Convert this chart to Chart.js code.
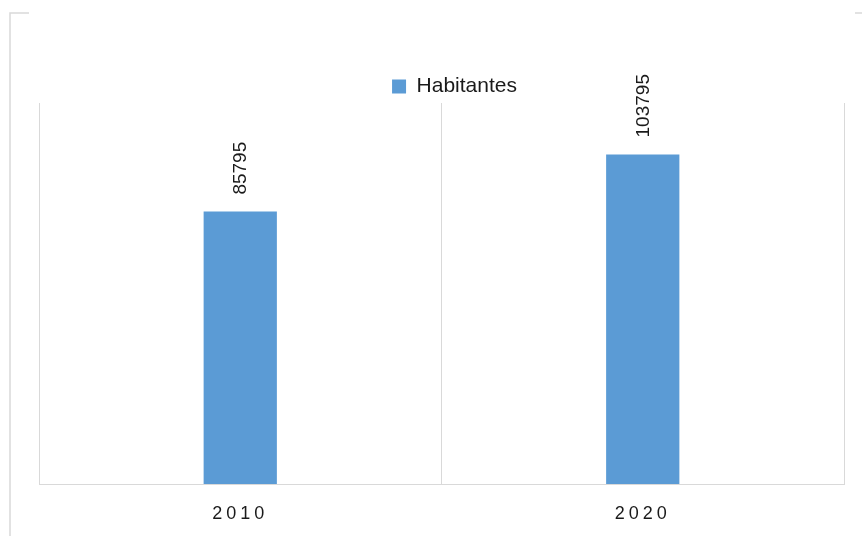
<!DOCTYPE html>
<html lang="es">
<head>
  <meta charset="UTF-8" />
  <title>Habitantes</title>
  <script src="https://cdn.jsdelivr.net/npm/chart.js"></script>
  <style>
    body {
      margin: 0;
      background: #fff;
    }
    .grafico {
      width: 862px;
      height: 536px;
      position: relative;
    }
  </style>
</head>
<body>
  <div class="grafico">
    <canvas id="grafico_habitantes"></canvas>
  </div>

  <script>
    // datos del grafico
    const anios = ['2010', '2020'];
    const habitantes = [85795, 103795];
    const nombreSerie = 'Habitantes';
    const escalaMin = 0;
    const escalaMax = 120000;

    const AZUL = '#5b9bd5';
    const GRIS = '#d9d9d9';
    const TEXTO = '#1a1a1a';

    // marco exterior (solo quedan trozos visibles)
    const marco = {
      id: 'marco',
      beforeDraw(chart) {
        const ctx = chart.ctx;
        ctx.save();
        ctx.strokeStyle = GRIS;
        ctx.lineWidth = 1.5;
        ctx.beginPath();
        ctx.moveTo(10, 536);
        ctx.lineTo(10, 13);
        ctx.lineTo(29, 13);
        ctx.moveTo(855, 13);
        ctx.lineTo(862, 13);
        ctx.stroke();
        ctx.restore();
      }
    };

    // etiquetas verticales encima de cada barra
    const etiquetas = {
      id: 'etiquetas',
      afterDatasetsDraw(chart) {
        const ctx = chart.ctx;
        const meta = chart.getDatasetMeta(0);
        ctx.save();
        ctx.fillStyle = TEXTO;
        ctx.font = '19px "Liberation Sans", Arial, sans-serif';
        ctx.textAlign = 'left';
        ctx.textBaseline = 'middle';
        meta.data.forEach((barra, i) => {
          ctx.save();
          ctx.translate(barra.x + 1, barra.y - 17);
          ctx.rotate(-Math.PI / 2);
          ctx.fillText(String(habitantes[i]), 0, 0);
          ctx.restore();
        });
        ctx.restore();
      }
    };

    // ajustes: leyenda un poco a la derecha, espaciado de los años
    const ajustes = {
      id: 'ajustes',
      afterLayout(chart) {
        const ley = chart.legend;
        if (ley) {
          ley.left += 13;
          ley.right += 13;
          ley.top += 4;
          ley.bottom += 4;
        }
        const xs = chart.scales.x;
        if (xs && !xs._espaciado) {
          const original = xs.drawLabels;
          xs.drawLabels = function (area) {
            this.ctx.save();
            this.ctx.letterSpacing = '4px';
            original.call(this, area);
            this.ctx.restore();
          };
          xs._espaciado = true;
        }
      }
    };

    const ctx = document.getElementById('grafico_habitantes').getContext('2d');
    const grafico = new Chart(ctx, {
      type: 'bar',
      data: {
        labels: anios,
        datasets: [{
          label: nombreSerie,
          data: habitantes,
          backgroundColor: AZUL,
          borderWidth: 0,
          categoryPercentage: 1,
          barPercentage: 0.182
        }]
      },
      options: {
        responsive: true,
        maintainAspectRatio: false,
        animation: false,
        layout: {
          padding: { top: 62, left: 39, right: 18, bottom: 0 }
        },
        plugins: {
          legend: {
            position: 'top',
            labels: {
              color: TEXTO,
              boxWidth: 14,
              boxHeight: 14,
              padding: 10,
              font: { family: '"Liberation Sans", Arial, sans-serif', size: 21 }
            }
          },
          tooltip: { enabled: false }
        },
        scales: {
          x: {
            grid: {
              color: GRIS,
              lineWidth: 1,
              drawTicks: false,
              offset: true
            },
            border: { color: GRIS, width: 1 },
            ticks: {
              color: TEXTO,
              padding: 19,
              font: { family: '"Liberation Sans", Arial, sans-serif', size: 18 }
            },
            afterFit(scale) {
              scale.height = 52;
            }
          },
          y: {
            display: false,
            min: escalaMin,
            max: escalaMax
          }
        }
      },
      plugins: [marco, etiquetas, ajustes]
    });
  </script>
</body>
</html>
